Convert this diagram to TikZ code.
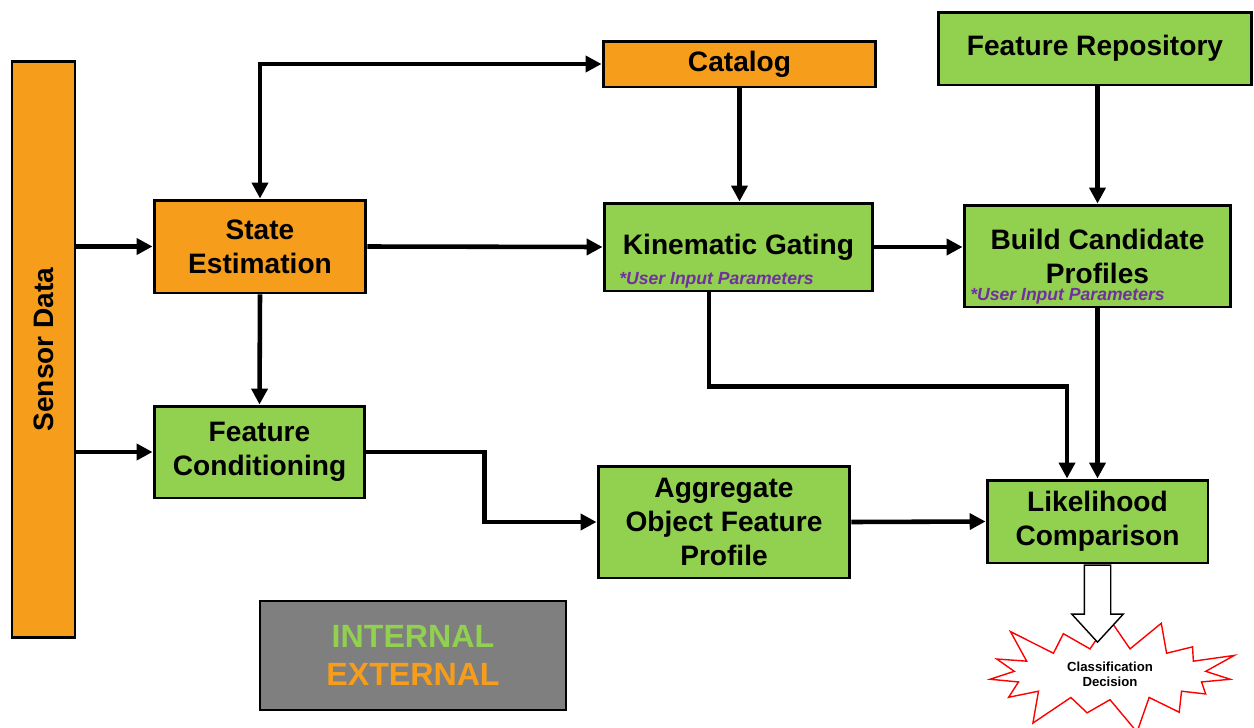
\documentclass[tikz,border=0pt]{standalone}
\usepackage{fontspec}
\setmainfont{Liberation Sans}
\usetikzlibrary{shapes, shapes.symbols, shapes.arrows, arrows.meta}
\definecolor{extorange}{RGB}{247,157,28}
\definecolor{intgreen}{RGB}{146,208,80}
\definecolor{userpurple}{RGB}{112,48,160}
\definecolor{legendgray}{RGB}{127,127,127}

\begin{document}
\begin{tikzpicture}[x=0.02cm, y=-0.02cm,
    >={Triangle[length=9pt, width=9pt]},
    box/.style={draw=black, line width=1.7pt, align=center, inner sep=0pt,
        font=\bfseries\fontsize{16}{19.3}\selectfont},
    ext/.style={box, fill=extorange},
    int/.style={box, fill=intgreen},
    flow/.style={->, line width=2.6pt},
    note/.style={anchor=base west, inner sep=0pt, text=userpurple,
        font=\bfseries\itshape\fontsize{10}{12}\selectfont}]
    \useasboundingbox (0,0) rectangle (1254,727);

    \node[ext, minimum width=1.26cm, minimum height=11.54cm] (sensor) at (43.5,349.5) {\rotatebox{90}{Sensor Data}};
    \node[ext, minimum width=4.24cm, minimum height=1.86cm] (state) at (260,246.5) {State\\Estimation};
    \node[ext, minimum width=5.46cm, minimum height=0.92cm] (catalog) at (739.5,64) {Catalog};
    \node[int, minimum width=6.28cm, minimum height=1.46cm] (repo) at (1095,48.5) {Feature Repository};
    \node[int, minimum width=5.38cm, minimum height=1.76cm] (gating) at (738.5,247) {Kinematic Gating};
    \node[int, minimum width=5.34cm, minimum height=2.04cm] (build) at (1097.5,256) {Build Candidate\\Profiles};
    \node[int, minimum width=4.22cm, minimum height=1.84cm] (cond) at (259.5,452) {Feature\\Conditioning};
    \node[int, minimum width=5.04cm, minimum height=2.24cm] (aggregate) at (724,522) {Aggregate\\Object Feature\\Profile};
    \node[int, minimum width=4.42cm, minimum height=1.66cm] (likelihood) at (1097.5,521.5) {Likelihood\\Comparison};

    % user parameter notes
    \node[note] (gatingnote) at (619,284) {*User Input Parameters};
    \node[note] (buildnote) at (970,300.5) {*User Input Parameters};

    % legend
    \node[box, fill=legendgray, line width=1pt, minimum width=6.12cm, minimum height=2.18cm,
        font=\bfseries\fontsize{18.3}{22}\selectfont] (legend) at (413,655.5)
        {\textcolor{intgreen}{INTERNAL}\\\textcolor{extorange}{EXTERNAL}};

    % decision
    \node[starburst, draw=red, fill=white, line width=0.8pt, starburst points=15,
        starburst point height=0.8cm, minimum width=5.45cm, minimum height=2.1cm, align=center,
        font=\bfseries\fontsize{7.5}{8.5}\selectfont] (decision) at (1110,674) {Classification\\Decision};
    \node[single arrow, draw=black, fill=white, line width=0.8pt, shape border rotate=270,
        inner sep=0.25cm, minimum height=1.54cm, single arrow head extend=0.25cm,
        single arrow tip angle=85, anchor=tail] (decisionarrow) at (likelihood.south) {};

    % inputs from sensor
    \draw[flow] (state.west -| sensor.east) -- (state.west);
    \draw[flow] (cond.west -| sensor.east) -- (cond.west);
    % state estimation and catalog
    \draw[flow, <->] (state.north) |- (catalog.west);
    \draw[flow] (state.east) -- (gating.west);
    \draw[flow] (state.south) -- (cond.north);
    \draw[flow] (catalog.south) -- (catalog.south |- gating.north);
    \draw[flow] (repo.south -| build) -- (build.north);
    \draw[flow] (gating.east) -- (gating.east -| build.west);
    % to likelihood comparison
    \draw[flow] (cond.east) -- ++(118,0) |- (aggregate.west);
    \draw[flow] ([xshift=-0.59cm]gating.south) -- ++(0,94) -| ([xshift=-0.61cm]likelihood.north);
    \draw[flow] (build.south) -- (likelihood.north);
    \draw[flow] (aggregate.east) -- (likelihood.west);

\end{tikzpicture}
\end{document}
